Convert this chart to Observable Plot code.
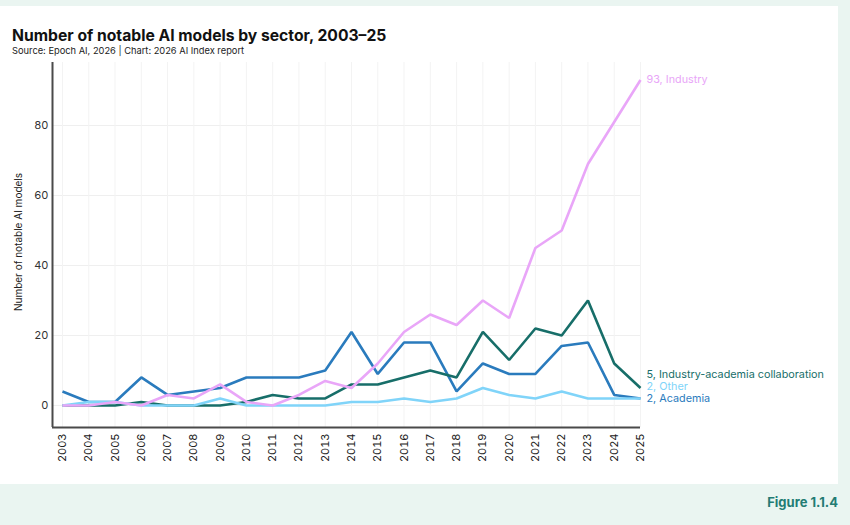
<!DOCTYPE html>
<html>
<head>
<meta charset="utf-8">
<script src="https://cdn.jsdelivr.net/npm/d3@7"></script>
<script src="https://cdn.jsdelivr.net/npm/@observablehq/plot@0.6"></script>
<style>
  html, body { margin: 0; padding: 0; width: 850px; height: 525px; overflow: hidden; background: #eaf5f1; font-family: Inter, "Open Sans", sans-serif; }
  #card { position: absolute; left: 0; top: 6px; width: 838px; height: 478px; background: #fff; }
  #title { position: absolute; left: 12px; top: 27px; font-size: 15.7px; line-height: 17px; font-weight: 700; color: #111; }
  #sub { position: absolute; left: 12px; top: 46px; font-size: 9.3px; line-height: 10px; color: #222; }
  #chart { position: absolute; left: 0; top: 56px; }
  #fig { position: absolute; right: 12px; top: 495px; font-size: 13px; line-height: 15px; font-weight: 700; color: #237c74; }
</style>
</head>
<body>
<div id="card"></div>
<div id="title">Number of notable AI models by sector, 2003–25</div>
<div id="sub">Source: Epoch AI, 2026 | Chart: 2026 AI Index report</div>
<div id="chart"></div>
<div id="fig">Figure 1.1.4</div>
<script>
// Notable AI models released per year, by sector
const years = [2003, 2004, 2005, 2006, 2007, 2008, 2009, 2010, 2011, 2012, 2013, 2014,
               2015, 2016, 2017, 2018, 2019, 2020, 2021, 2022, 2023, 2024, 2025];
const sectors = ["Academia", "Industry-academia collaboration", "Other", "Industry"];
const academia = [4, 1, 1, 8, 3, 4, 5, 8, 8, 8, 10, 21, 9, 18, 18, 4, 12, 9, 9, 17, 18, 3, 2];
const collaboration = [0, 0, 0, 1, 0, 0, 0, 1, 3, 2, 2, 6, 6, 8, 10, 8, 21, 13, 22, 20, 30, 12, 5];
const other = [0, 1, 1, 0, 0, 0, 2, 0, 0, 0, 0, 1, 1, 2, 1, 2, 5, 3, 2, 4, 2, 2, 2];
const industry = [0, 0, 1, 0, 3, 2, 6, 1, 0, 3, 7, 5, 12, 21, 26, 23, 30, 25, 45, 50, 69, 81, 93];
const yTicks = [0, 20, 40, 60, 80];
const colors = ["#2a7bbd", "#176e69", "#80d4f9", "#e9a6f8"];

const seriesValues = [academia, collaboration, other, industry];
const rows = sectors.flatMap((s, i) => years.map((year, j) => ({ sector: s, year, value: seriesValues[i][j] })));

// Frame geometry
const W = 838, H = 414, mT = 6, mB = 43, mL = 52, mR = 198;
const yMin = -6.3, yMax = 98;
const x0 = 2002.62, x1 = 2025;

// End-of-line labels, nudged apart vertically so they don't overlap
const pxPerUnit = (H - mT - mB) / (yMax - yMin);
const gap = 12.2 / pxPerUnit;
const ends = sectors.map((s, i) => ({ sector: s, value: seriesValues[i][years.length - 1] }))
  .sort((a, b) => a.value - b.value || (a.sector === "Academia" ? -1 : b.sector === "Academia" ? 1 : 0));
let prev = -Infinity;
for (const e of ends) { e.labelY = Math.max(e.value, prev + gap); prev = e.labelY; }

const chart = Plot.plot({
  width: W, height: H,
  marginTop: mT, marginBottom: mB, marginLeft: mL, marginRight: mR,
  style: { fontFamily: "Inter, 'Open Sans', sans-serif", fontSize: "11px", color: "#333", background: "transparent", overflow: "visible" },
  x: { domain: [x0, x1] },
  y: { domain: [yMin, yMax] },
  color: { domain: sectors, range: colors },
  marks: [
    Plot.ruleY(yTicks, { x1: x0, x2: x1, stroke: "#efefef", strokeWidth: 1 }),
    Plot.ruleX(years, { y1: yMin, y2: yMax, stroke: "#f3f3f3", strokeWidth: 1 }),
    Plot.line(rows, { x: "year", y: "value", z: "sector", stroke: "sector", strokeWidth: 2.6, strokeLinejoin: "miter", strokeLinecap: "butt" }),
    Plot.ruleX([x0], { y1: yMin, y2: yMax, stroke: "#4a4a4a", strokeWidth: 2 }),
    Plot.ruleY([yMin], { x1: x0, x2: x1, stroke: "#4a4a4a", strokeWidth: 2 }),
    Plot.axisY({ ticks: yTicks, tickSize: 0, tickPadding: 4, label: null, fontSize: 11 }),
    Plot.axisX({ ticks: years, tickRotate: -90, tickSize: 0, tickPadding: 6, tickFormat: d => String(d), label: null, fontSize: 11, fill: "#222" }),
    Plot.text(["Number of notable AI models"], { frameAnchor: "left", textAnchor: "middle", dx: -34, dy: -3, rotate: -90, fontSize: 10, fill: "#222" }),
    Plot.text(ends, { x: x1, y: "labelY", text: d => `${d.value}, ${d.sector}`, fill: "sector", dx: 6, textAnchor: "start", fontSize: 10.8 })
  ]
});
document.getElementById("chart").appendChild(chart);
</script>
</body>
</html>
